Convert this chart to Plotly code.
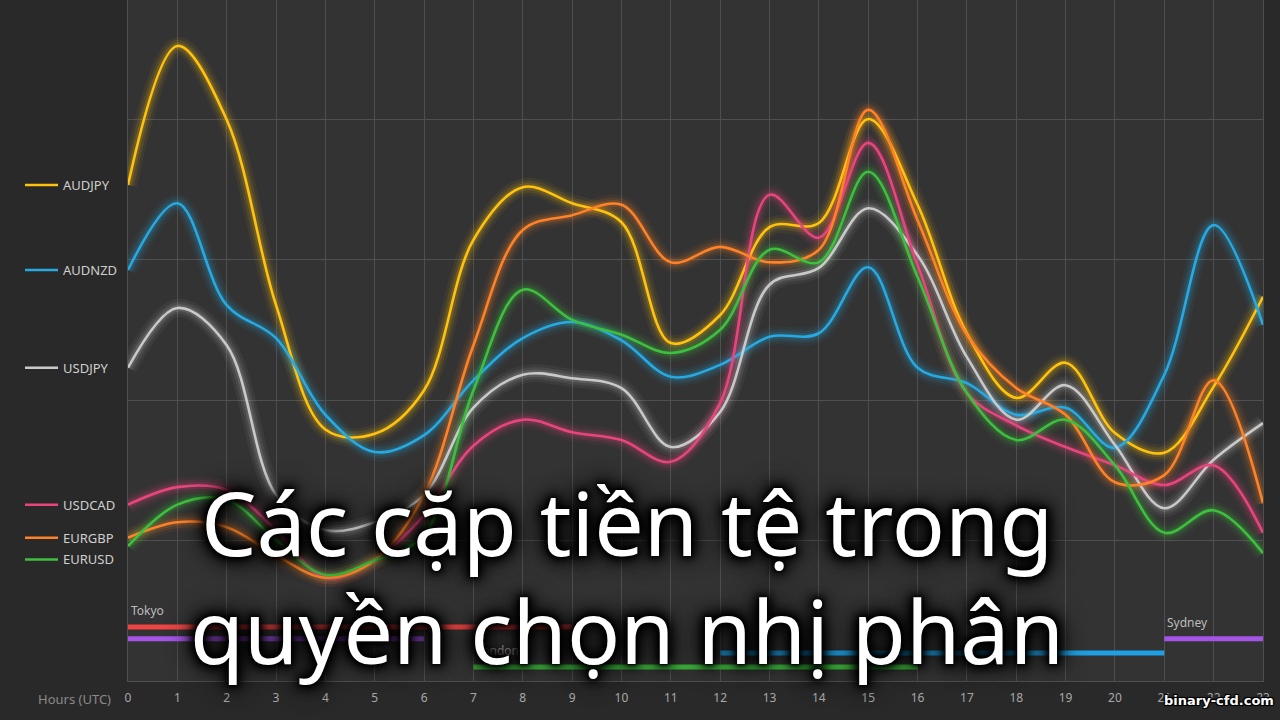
import plotly.graph_objects as go

# ---------------- data ----------------
hours = list(range(24))
hour_labels = [str(h) for h in hours]

pairs = ["AUDJPY", "AUDNZD", "USDJPY", "USDCAD", "EURGBP", "EURUSD"]

audjpy = [70.6, 90.4, 79.9, 53.5, 35.8, 35.2, 41.4, 62.8, 70.3, 68.0, 65.3, 48.1,
          52.1, 64.6, 65.2, 80.0, 67.8, 49.5, 40.3, 45.3, 35.3, 32.5, 41.9, 54.7]
audnzd = [58.5, 68.0, 53.5, 48.8, 37.9, 32.6, 35.0, 42.8, 48.8, 51.1, 48.5, 43.3,
          45.0, 49.0, 49.5, 58.9, 44.6, 42.4, 37.9, 38.9, 33.2, 43.6, 64.9, 50.7]
usdjpy = [44.6, 53.1, 47.8, 26.5, 21.5, 22.6, 26.5, 38.9, 43.6, 43.1, 41.7, 33.3,
          38.3, 56.4, 58.8, 67.3, 60.6, 46.1, 37.2, 42.1, 33.6, 24.6, 31.5, 36.7]
usdcad = [25.1, 27.6, 27.2, 21.5, 14.7, 17.2, 23.6, 33.5, 37.2, 35.4, 34.3, 31.2,
          39.6, 69.2, 63.1, 76.6, 59.2, 41.0, 36.4, 33.3, 30.7, 27.9, 30.7, 21.1]
eurgbp = [20.4, 22.6, 21.9, 17.9, 14.7, 17.2, 26.5, 47.8, 64.2, 66.3, 67.8, 59.6,
          61.8, 59.6, 61.4, 81.3, 65.6, 49.3, 41.7, 37.9, 28.3, 29.3, 42.8, 25.3]
eurusd = [19.2, 25.1, 25.8, 20.1, 15.1, 17.2, 20.8, 41.4, 55.7, 51.4, 49.3, 46.7,
          50.0, 61.4, 59.6, 72.5, 57.5, 41.0, 34.3, 37.2, 30.7, 21.1, 24.3, 18.2]

series_values = [audjpy, audnzd, usdjpy, usdcad, eurgbp, eurusd]
series_colors = ["#ffc20e", "#27a9e1", "#c9c9c9", "#e8457f", "#ff8228", "#3fbf3f"]

# trading sessions (UTC hours)
session_names = ["Tokyo", "Sydney", "Sydney", "New York", "London"]
session_start = [0, 0, 21, 12, 7]
session_end = [9, 6, 23, 21, 16]
session_level = [7.7, 6.0, 6.0, 4.0, 2.0]
session_colors = ["#ee4444", "#a455e8", "#a455e8", "#1ea0e2", "#3cb43c"]
session_show_label = [True, False, True, False, True]

title_line1 = "Các cặp tiền tệ trong"
title_line2 = "quyền chọn nhị phân"
watermark = "binary-cfd.com"
x_title = "Hours (UTC)"

# ---------------- figure ----------------
W, H = 1280, 720
ML, MR, MT, MB = 128, 17, 0, 39
PW = W - ML - MR
PH = H - MT - MB
Y_MAX = 96.94


def rgba(hex_color, a):
    h = hex_color.lstrip("#")
    r, g, b = int(h[0:2], 16), int(h[2:4], 16), int(h[4:6], 16)
    return f"rgba({r},{g},{b},{a})"


def px_to_paper_x(px):
    return (px - ML) / PW


fig = go.Figure()

# glows first
for vals, col in zip(series_values, series_colors):
    for w, a in [(18, 0.06), (12, 0.10), (7, 0.16)]:
        fig.add_trace(go.Scatter(
            x=hours, y=vals, mode="lines",
            line=dict(color=rgba(col, a), width=w, shape="spline", smoothing=1.0),
            hoverinfo="skip", showlegend=False))

# crisp lines
for name, vals, col in zip(pairs, series_values, series_colors):
    fig.add_trace(go.Scatter(
        x=hours, y=vals, mode="lines", name=name,
        line=dict(color=col, width=2.6, shape="spline", smoothing=1.0),
        showlegend=False))

# session bars
for nm, s, e, lvl, col, show in zip(session_names, session_start, session_end,
                                     session_level, session_colors, session_show_label):
    fig.add_trace(go.Scatter(
        x=[s, e], y=[lvl, lvl], mode="lines",
        line=dict(color=col, width=5), hoverinfo="skip", showlegend=False))
    if show:
        fig.add_annotation(x=s, y=lvl + 2.3, xref="x", yref="y", text=nm,
                           showarrow=False, xanchor="left", yanchor="middle", xshift=1,
                           font=dict(family="Noto Sans", size=12, color="#bdbdbd"))

# legend on the left (labels at series start, de-overlapped)
order = sorted(range(len(pairs)), key=lambda i: -series_values[i][0])
label_y = {}
prev = None
for i in order:
    v = series_values[i][0]
    if prev is not None and prev - v < 3.1:
        v = prev - 3.1
    label_y[i] = v
    prev = v

for i, name in enumerate(pairs):
    yv = label_y[i]
    fig.add_shape(type="line", xref="paper", yref="y",
                  x0=px_to_paper_x(25), x1=px_to_paper_x(58), y0=yv, y1=yv,
                  line=dict(color=series_colors[i], width=2.5))
    fig.add_annotation(x=px_to_paper_x(61), y=yv, xref="paper", yref="y", text=name,
                       showarrow=False, xanchor="left", yanchor="middle",
                       font=dict(family="Noto Sans", size=13, color="#cfcfcf"))

# x-axis title
fig.add_annotation(x=px_to_paper_x(113), y=-(699 - (MT + PH)) / PH, xref="paper", yref="paper",
                   text=x_title, showarrow=False, xanchor="right", yanchor="middle",
                   font=dict(family="Noto Sans", size=13, color="#8a8a8a"))

# big title with dark halo
shadow = ("0px 0px 3px #000, 0px 0px 6px #000, 0px 0px 9px #000, 0px 0px 12px #000, "
          "0px 0px 16px #000, 0px 0px 22px #000, 0px 0px 28px rgba(0,0,0,0.8)")
for txt, cy in [(title_line1, 522), (title_line2, 630)]:
    fig.add_annotation(x=px_to_paper_x(627), y=(MT + PH - cy) / PH, xref="paper", yref="paper",
                       text=txt, showarrow=False, xanchor="center", yanchor="middle",
                       font=dict(family="Noto Sans", size=88, color="#ffffff", shadow=shadow))

# watermark
fig.add_annotation(x=px_to_paper_x(1276), y=-(700 - (MT + PH)) / PH, xref="paper", yref="paper",
                   text=f"<b>{watermark}</b>", showarrow=False, xanchor="right", yanchor="middle",
                   font=dict(family="DejaVu Sans", size=13, color="#ffffff",
                             shadow="1px 1px 0 #000, -1px -1px 0 #000, 1px -1px 0 #000, -1px 1px 0 #000, 0 0 3px #000"))

fig.update_layout(
    width=W, height=H,
    margin=dict(l=ML, r=MR, t=MT, b=MB, pad=0),
    paper_bgcolor="#292929",
    plot_bgcolor="#333333",
    showlegend=False,
    xaxis=dict(range=[0, 23], tickmode="array", tickvals=hours, ticktext=hour_labels,
               showgrid=True, gridcolor="#4f4f4f", gridwidth=1, zeroline=False,
               showline=True, linecolor="#4f4f4f", linewidth=1, ticks="",
               tickfont=dict(family="Noto Sans", size=12, color="#a8a8a8"), ticklabelstandoff=6),
    yaxis=dict(range=[0, Y_MAX], tickvals=[20, 40, 60, 80], showticklabels=False,
               showgrid=True, gridcolor="#4f4f4f", gridwidth=1, zeroline=False,
               showline=True, linecolor="#4f4f4f", linewidth=1, mirror=True, ticks=""),
)

fig.write_html("out.html", config={"displayModeBar": False},
               post_script="document.body.style.margin='0px';")
